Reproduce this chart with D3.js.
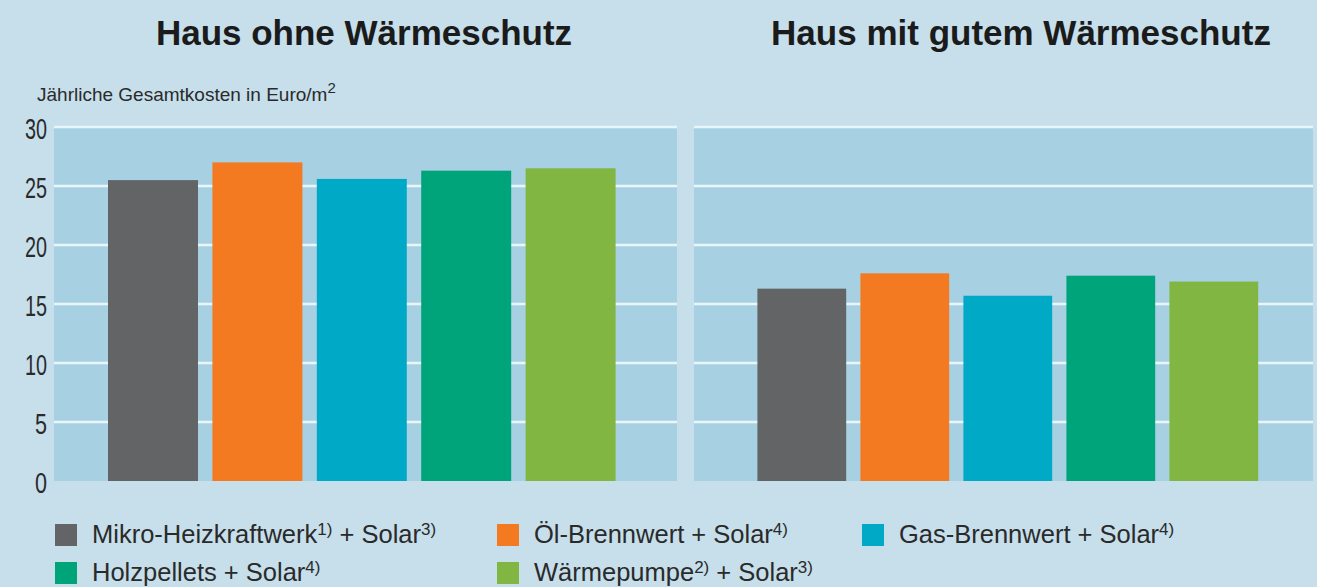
<!DOCTYPE html>
<html>
<head>
  <meta charset="utf-8">
  <title>Jährliche Gesamtkosten</title>
  <style type="text/css">
    body { margin: 0; background-color: #c6dfeb; }
    svg { display: block; }
    .title { font: bold 35px "Liberation Sans", Arial, sans-serif; fill: #1b1b1b; }
    .ylabel { font: 19px "Liberation Sans", Arial, sans-serif; fill: #2a2a2a; }
    .tick text { font: 29px "Liberation Sans", Arial, sans-serif; fill: #2a2a2a; }
    .legend text { font: 25.5px "Liberation Sans", Arial, sans-serif; fill: #2a2a2a; }
  </style>
  <script src="https://d3js.org/d3.v7.min.js"></script>
</head>
<body>
<script>
// data
var panelTitles = ["Haus ohne Wärmeschutz", "Haus mit gutem Wärmeschutz"];
var systems = ["Mikro-Heizkraftwerk", "Öl-Brennwert", "Gas-Brennwert", "Holzpellets", "Wärmepumpe"];
var systemNotes = ["1)", "", "", "", "2)"];
var solarNotes = ["3)", "4)", "4)", "4)", "3)"];
var costsOhne = [25.5, 27.0, 25.6, 26.3, 26.5];
var costsMit = [16.3, 17.6, 15.7, 17.4, 16.9];
var yTicks = [0, 5, 10, 15, 20, 25, 30];
var colors = ["#636466", "#f37a21", "#00aac6", "#00a47b", "#82b642"];

var width = 1317, height = 587;

var svg = d3.select("body").append("svg")
    .attr("width", width)
    .attr("height", height);

svg.append("rect")
    .attr("width", width).attr("height", height)
    .attr("fill", "#c6dfeb");

var y = d3.scaleLinear().domain([0, 30]).range([481, 127]);

// each panel: background box, bar range
var panels = [
  {title: panelTitles[0], values: costsOhne, x0: 54, x1: 677, bars: [100.8, 622.8], tx: 364},
  {title: panelTitles[1], values: costsMit, x0: 694, x1: 1313, bars: [750.3, 1265.3], tx: 1021}
];

panels.forEach(function(p) {
  var g = svg.append("g");

  g.append("rect")
      .attr("x", p.x0)
      .attr("y", y(30))
      .attr("width", p.x1 - p.x0)
      .attr("height", y(0) - y(30))
      .attr("fill", "#a8d0e3");

  g.selectAll("line.grid")
    .data(yTicks.filter(function(d) { return d > 0; }))
    .enter().append("line")
      .attr("class", "grid")
      .attr("x1", p.x0).attr("x2", p.x1)
      .attr("y1", function(d) { return y(d); })
      .attr("y2", function(d) { return y(d); })
      .attr("stroke", "#e8f5fb")
      .attr("stroke-width", 2.5);

  var x = d3.scaleBand()
      .domain(systems)
      .range(p.bars)
      .paddingInner(0.138)
      .paddingOuter(0.069);

  g.selectAll("rect.bar")
    .data(p.values)
    .enter().append("rect")
      .attr("class", "bar")
      .attr("x", function(d, i) { return x(systems[i]); })
      .attr("y", function(d) { return y(d); })
      .attr("width", x.bandwidth())
      .attr("height", function(d) { return y(0) - y(d); })
      .attr("fill", function(d, i) { return colors[i]; });

  svg.append("text")
      .attr("class", "title")
      .attr("x", p.tx)
      .attr("y", 45)
      .attr("text-anchor", "middle")
      .text(p.title);
});

// y axis, labels only
var yAxis = d3.axisLeft(y).tickValues(yTicks).tickSize(0).tickPadding(0);
var ax = svg.append("g")
    .attr("transform", "translate(47,2)")
    .call(yAxis);
ax.select(".domain").remove();
// the digits in the original are narrow
ax.selectAll(".tick text")
    .attr("textLength", function(d) { return d >= 10 ? 22 : 12; })
    .attr("lengthAdjust", "spacingAndGlyphs");

var yl = svg.append("text")
    .attr("class", "ylabel")
    .attr("x", 37)
    .attr("y", 101);
yl.append("tspan").text("Jährliche Gesamtkosten in Euro/m");
yl.append("tspan").attr("dy", -8).style("font-size", "15px").text("2");

// legend
var legendPos = [[55, 535], [497, 535], [862, 535], [55, 573], [497, 573]];

var leg = svg.append("g").attr("class", "legend")
  .selectAll("g")
  .data(systems)
  .enter().append("g")
    .attr("transform", function(d, i) { return "translate(" + legendPos[i][0] + "," + legendPos[i][1] + ")"; });

leg.append("rect")
    .attr("x", 0).attr("y", -11)
    .attr("width", 22).attr("height", 22)
    .attr("fill", function(d, i) { return colors[i]; });

var lt = leg.append("text")
    .attr("x", 37)
    .attr("y", 8);
lt.append("tspan").text(function(d) { return d; });
lt.append("tspan")
    .attr("dy", function(d, i) { return systemNotes[i] ? -8 : 0; })
    .style("font-size", "17px")
    .text(function(d, i) { return systemNotes[i]; });
lt.append("tspan")
    .attr("dy", function(d, i) { return systemNotes[i] ? 8 : 0; })
    .text(" + Solar");
lt.append("tspan")
    .attr("dy", -8)
    .style("font-size", "17px")
    .text(function(d, i) { return solarNotes[i]; });
</script>
</body>
</html>
